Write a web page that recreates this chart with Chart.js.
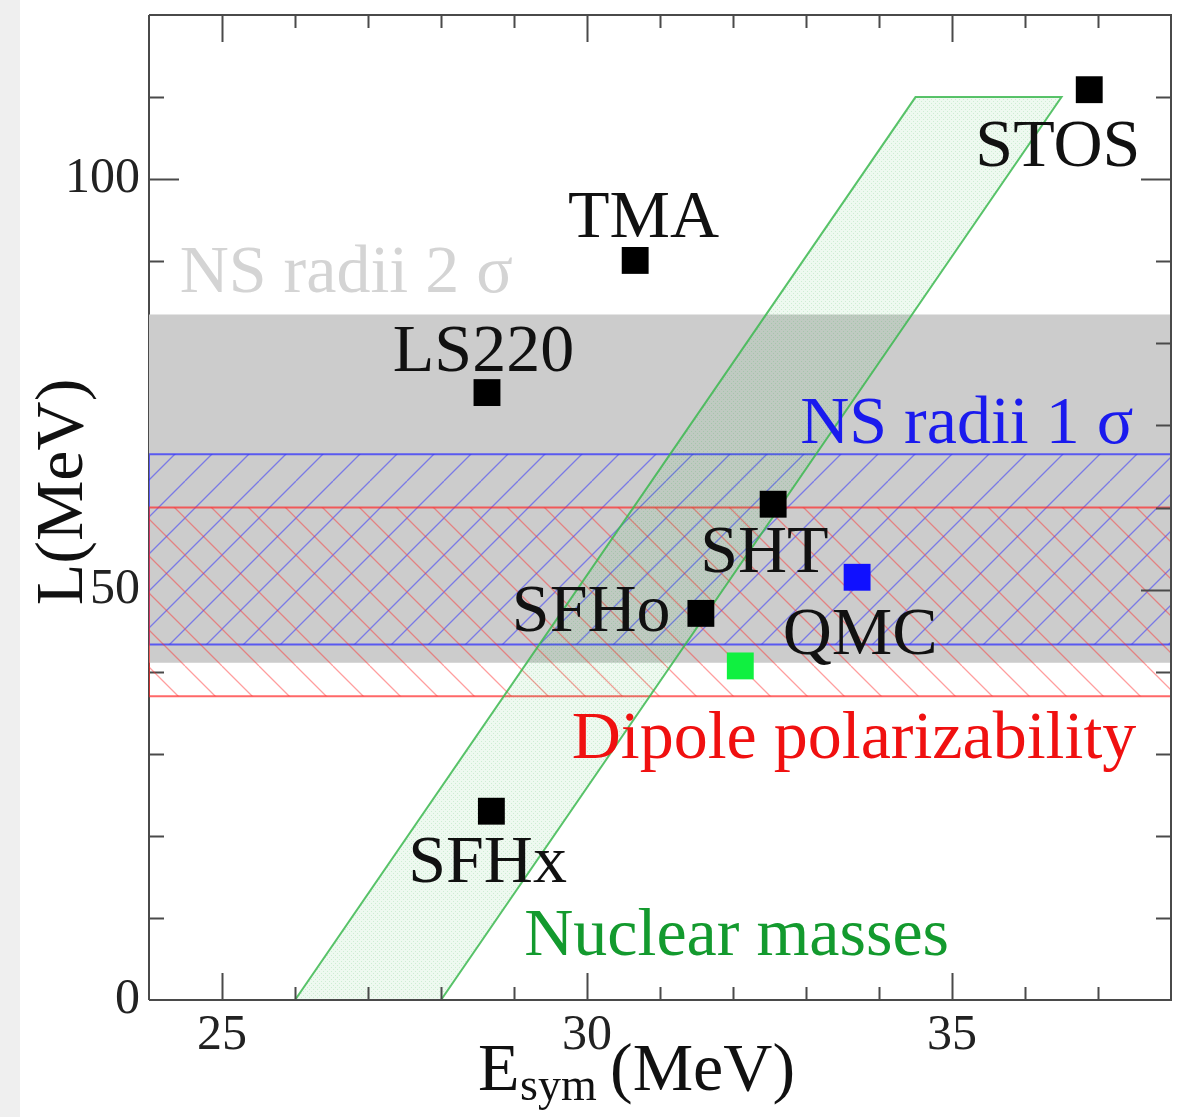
<!DOCTYPE html>
<html>
<head>
<meta charset="utf-8">
<script src="https://cdn.jsdelivr.net/npm/chart.js@4.4.1/dist/chart.umd.min.js"></script>
<style>
  html, body { margin: 0; padding: 0; background: #fff; }
  #wrap { position: relative; width: 1178px; height: 1117px;
          background: linear-gradient(to right, #efefef 20px, #ffffff 20px); }
</style>
</head>
<body>
<div id="wrap"><canvas id="chart" width="1178" height="1117"></canvas></div>
<script>
// EoS models: symmetry energy E_sym and slope L (MeV)
const modelNames = ['STOS', 'TMA', 'LS220', 'SHT', 'SFHo', 'SFHx'];
const modelEsym  = [36.88, 30.66, 28.63, 32.55, 31.56, 28.69];
const modelL     = [110.9, 90.1, 74.0, 60.4, 47.1, 23.0];

const qmcEsym = [33.70];
const qmcL    = [51.5];
const greenEsym = [32.10];
const greenL    = [40.7];

// constraint bands on L (low, high)
const nsRadii2Sigma = [41.1, 83.5];
const nsRadii1Sigma = [43.3, 66.5];
const dipolePol     = [37.0, 60.0];

// nuclear masses parallelogram corners
const massesEsym = [26, 28, 36.5, 34.5, 26];
const massesL    = [0, 0, 110, 110, 0];

// axes
const xMin = 24, xMax = 38, yMin = 0, yMax = 120;
const xTickLabels = [25, 30, 35];
const yTickLabels = [0, 50, 100];

// text annotations, anchored in data units (left edge, baseline)
const annotations = [
  { text: 'STOS',  x: 35.32, y: 101.6, color: '#111' },
  { text: 'TMA',   x: 29.74, y: 93.0,  color: '#111' },
  { text: 'LS220', x: 27.34, y: 76.6,  color: '#111' },
  { text: 'SHT',   x: 31.55, y: 52.2,  color: '#111' },
  { text: 'SFHo',  x: 28.97, y: 44.9,  color: '#111' },
  { text: 'QMC',   x: 32.68, y: 42.1,  color: '#111' },
  { text: 'SFHx',  x: 27.55, y: 14.4,  color: '#111' },
  { text: 'NS radii 2 σ', x: 24.42, y: 86.2, color: '#d4d4d4' },
  { text: 'NS radii 1 σ', x: 32.92, y: 67.9, color: '#1a1aee' },
  { text: 'Dipole polarizability', x: 29.79, y: 29.5, color: '#f01010' },
  { text: 'Nuclear masses', x: 29.14, y: 5.5, color: '#139a2e' }
];

const SERIF = "'Liberation Serif', 'DejaVu Serif', serif";

function hatch(color, forward) {
  const s = 37;
  const c = document.createElement('canvas');
  c.width = s; c.height = s;
  const g = c.getContext('2d');
  g.strokeStyle = color;
  g.lineWidth = 1.3;
  g.beginPath();
  for (let k = -1; k <= 1; k++) {
    if (forward) { g.moveTo(k * s, s); g.lineTo(k * s + s, 0); }
    else { g.moveTo(k * s, 0); g.lineTo(k * s + s, s); }
  }
  g.stroke();
  return g.createPattern(c, 'repeat');
}

function dots() {
  const c = document.createElement('canvas');
  c.width = 4; c.height = 4;
  const g = c.getContext('2d');
  g.fillStyle = 'rgba(40,175,60,0.08)';
  g.fillRect(0, 0, 4, 4);
  g.fillStyle = 'rgba(40,175,60,0.16)';
  g.fillRect(1, 1, 1, 1);
  g.fillRect(3, 3, 1, 1);
  return g.createPattern(c, 'repeat');
}

function band(range) {
  const [lo, hi] = range;
  return [{x: xMin, y: lo}, {x: xMax, y: lo}, {x: xMax, y: hi}, {x: xMin, y: hi}, {x: xMin, y: lo}];
}

function pts(xs, ys) { return xs.map((x, i) => ({x: x, y: ys[i]})); }

// frame and inward ticks; left side goes under the bands like in the original
function drawTicks(chart, leftOnly) {
  const {ctx, chartArea: a, scales: {x, y}} = chart;
  ctx.save();
  ctx.strokeStyle = '#4a4a4a';
  ctx.lineWidth = 2;
  ctx.beginPath();
  if (leftOnly) {
    ctx.moveTo(a.left, a.top); ctx.lineTo(a.left, a.bottom);
    for (let v = yMin + 10; v < yMax; v += 10) {
      const py = Math.round(y.getPixelForValue(v)) + 0.5;
      const len = v % 50 === 0 ? 30 : 15;
      ctx.moveTo(a.left, py); ctx.lineTo(a.left + len, py);
    }
  } else {
    ctx.moveTo(a.left, a.top); ctx.lineTo(a.right, a.top);
    ctx.lineTo(a.right, a.bottom); ctx.lineTo(a.left, a.bottom);
    for (let v = yMin + 10; v < yMax; v += 10) {
      const py = Math.round(y.getPixelForValue(v)) + 0.5;
      const len = v % 50 === 0 ? 30 : 15;
      ctx.moveTo(a.right, py); ctx.lineTo(a.right - len, py);
    }
    for (let v = xMin + 1; v < xMax; v += 1) {
      const px = Math.round(x.getPixelForValue(v)) + 0.5;
      const len = v % 5 === 0 ? 27 : 13;
      ctx.moveTo(px, a.bottom); ctx.lineTo(px, a.bottom - len);
      ctx.moveTo(px, a.top); ctx.lineTo(px, a.top + len);
    }
  }
  ctx.stroke();
  ctx.restore();
}

const frameTicks = {
  id: 'frameTicks',
  beforeDatasetsDraw(chart) { drawTicks(chart, true); },
  afterDatasetsDraw(chart) { drawTicks(chart, false); }
};

const textLayer = {
  id: 'textLayer',
  afterDraw(chart) {
    const {ctx, chartArea: a, scales: {x, y}} = chart;
    ctx.save();
    ctx.textAlign = 'left';
    ctx.textBaseline = 'alphabetic';
    ctx.font = '68px ' + SERIF;
    annotations.forEach(t => {
      ctx.fillStyle = t.color;
      ctx.fillText(t.text, x.getPixelForValue(t.x), y.getPixelForValue(t.y));
    });

    // x title: E_sym (MeV)
    ctx.fillStyle = '#111';
    ctx.font = '68px ' + SERIF;
    ctx.fillText('E', a.left + 329, a.bottom + 90);
    ctx.font = '46px ' + SERIF;
    ctx.fillText('sym', a.left + 371, a.bottom + 100);
    ctx.font = '68px ' + SERIF;
    ctx.fillText('(MeV)', a.left + 461, a.bottom + 90);

    // y title
    ctx.translate(82, 492);
    ctx.rotate(-Math.PI / 2);
    ctx.textAlign = 'center';
    ctx.fillText('L(MeV)', 0, 0);
    ctx.restore();
  }
};

// drop the space Chart.js keeps for edge tick labels so the frame sits where it should
function noEdgePad(s) {
  s.paddingLeft = 0; s.paddingRight = 0; s.paddingTop = 0; s.paddingBottom = 0;
}

const ctx = document.getElementById('chart').getContext('2d');

new Chart(ctx, {
  type: 'scatter',
  data: {
    datasets: [
      {
        data: pts(modelEsym, modelL),
        pointStyle: 'rect', pointRadius: 19, pointHoverRadius: 19,
        backgroundColor: '#000', borderWidth: 0, order: 0
      },
      {
        data: pts(qmcEsym, qmcL),
        pointStyle: 'rect', pointRadius: 19, pointHoverRadius: 19,
        backgroundColor: '#1010ff', borderWidth: 0, order: 0
      },
      {
        data: pts(greenEsym, greenL),
        pointStyle: 'rect', pointRadius: 19, pointHoverRadius: 19,
        backgroundColor: '#10f040', borderWidth: 0, order: 0
      },
      {
        type: 'line', data: pts(massesEsym, massesL), fill: 'shape',
        backgroundColor: dots(), borderColor: 'rgba(60,185,80,0.85)', borderWidth: 2,
        pointRadius: 0, tension: 0, order: 1
      },
      {
        type: 'line', data: band(dipolePol), fill: 'shape',
        backgroundColor: hatch('rgba(255,40,40,0.45)', false),
        borderColor: 'rgba(255,40,40,0.7)', borderWidth: 2,
        pointRadius: 0, tension: 0, order: 2
      },
      {
        type: 'line', data: band(nsRadii1Sigma), fill: 'shape',
        backgroundColor: hatch('rgba(40,40,255,0.5)', true),
        borderColor: 'rgba(40,40,255,0.7)', borderWidth: 2,
        pointRadius: 0, tension: 0, order: 3
      },
      {
        type: 'line', data: band(nsRadii2Sigma), fill: 'shape',
        backgroundColor: '#cccccc', borderWidth: 0,
        pointRadius: 0, tension: 0, order: 4
      }
    ]
  },
  options: {
    responsive: false,
    animation: false,
    layout: { autoPadding: false, padding: { left: 0, top: 15, right: 7, bottom: 0 } },
    plugins: { legend: { display: false }, tooltip: { enabled: false } },
    scales: {
      x: {
        type: 'linear', min: xMin, max: xMax,
        grid: { display: false, drawTicks: false },
        border: { display: false },
        afterFit: s => { s.height = 117; noEdgePad(s); },
        ticks: {
          stepSize: 1, autoSkip: false, maxRotation: 0, padding: 6,
          color: '#222', font: { family: SERIF, size: 50 },
          callback: v => xTickLabels.includes(v) ? String(v) : ''
        }
      },
      y: {
        type: 'linear', min: yMin, max: yMax,
        grid: { display: false, drawTicks: false },
        border: { display: false },
        afterFit: s => { s.width = 149; noEdgePad(s); },
        ticks: {
          stepSize: 10, autoSkip: false, padding: 9,
          color: '#222', font: { family: SERIF, size: 50 },
          callback: v => yTickLabels.includes(v) ? String(v) : ''
        }
      }
    }
  },
  plugins: [frameTicks, textLayer]
});
</script>
</body>
</html>
